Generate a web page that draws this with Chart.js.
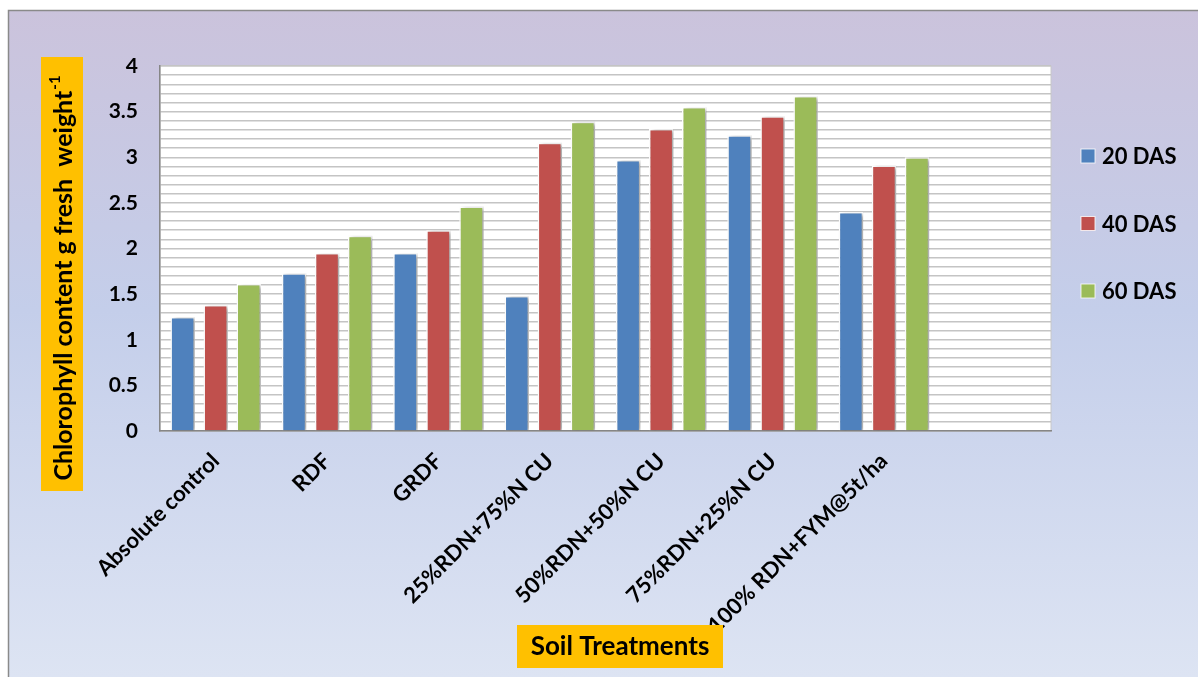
<!DOCTYPE html>
<html>
<head>
<meta charset="utf-8">
<title>Chlorophyll content</title>
<script src="https://cdn.jsdelivr.net/npm/chart.js@4"></script>
<style>
    body { margin: 0; background: #fff; }
    canvas { display: block; }
</style>
</head>
<body>
<canvas id="chlorophyll-chart" width="1198" height="677"></canvas>
<script>
// last slot is left empty, like the original sheet
const categories = ['Absolute control', 'RDF', 'GRDF', '25%RDN+75%N CU', '50%RDN+50%N CU', '75%RDN+25%N CU', '100% RDN+FYM@5t/ha', ''];
const das20 = [1.25, 1.73, 1.95, 1.48, 2.97, 3.24, 2.40];
const das40 = [1.38, 1.95, 2.20, 3.16, 3.31, 3.45, 2.91];
const das60 = [1.61, 2.14, 2.46, 3.39, 3.55, 3.67, 3.00];
const seriesNames = ['20 DAS', '40 DAS', '60 DAS'];
const seriesColors = ['#4F81BD', '#C0504D', '#9BBB59'];

const yTitle = 'Chlorophyll content g fresh  weight';
const xTitle = 'Soil Treatments';

const FONT = 'Lato, "Open Sans", sans-serif';

document.addEventListener('DOMContentLoaded', () => {
    const ctx = document.getElementById('chlorophyll-chart').getContext('2d');

    const framePlugin = {
        id: 'frame',
        beforeDraw(chart) {
            const c = chart.ctx;
            const { left, top, right, bottom } = chart.chartArea;
            c.save();
            c.fillStyle = '#fff';
            c.fillRect(0, 0, chart.width, chart.height);
            const grad = c.createLinearGradient(0, 10, 0, chart.height);
            grad.addColorStop(0, '#CBC3DC');
            grad.addColorStop(0.45, '#C4CEEA');
            grad.addColorStop(1, '#DDE4F3');
            c.fillStyle = grad;
            c.fillRect(8, 10, chart.width - 8, chart.height - 10);
            c.strokeStyle = '#8a8a8a';
            c.lineWidth = 1.5;
            c.strokeRect(8.5, 10.5, chart.width + 10, chart.height + 10);
            c.fillStyle = '#fff';
            c.fillRect(left, top, right - left, bottom - top);
            c.strokeStyle = '#c8c8c8';
            c.lineWidth = 1;
            c.strokeRect(left, top, right - left, bottom - top);
            c.restore();
        }
    };

    const shadowPlugin = {
        id: 'barShadow',
        beforeDatasetsDraw(chart) {
            const c = chart.ctx;
            c.save();
            c.shadowColor = 'rgba(0,0,0,0.35)';
            c.shadowBlur = 4;
            c.shadowOffsetX = 3;
            c.shadowOffsetY = 1;
        },
        afterDatasetsDraw(chart) {
            chart.ctx.restore();
        }
    };

    const labelsPlugin = {
        id: 'titlesAndLegend',
        afterDraw(chart) {
            const c = chart.ctx;
            c.save();

            // y axis title in orange box
            c.fillStyle = '#FFC000';
            c.fillRect(41, 57, 42, 434);
            c.translate(63, 278);
            c.rotate(-Math.PI / 2);
            c.font = 'bold 25px ' + FONT;
            const mainW = c.measureText(yTitle).width;
            c.font = 'bold 15px ' + FONT;
            const supW = c.measureText('-1').width;
            const start = -(mainW + supW + 1) / 2;
            c.fillStyle = '#000';
            c.textBaseline = 'middle';
            c.textAlign = 'left';
            c.font = 'bold 25px ' + FONT;
            c.fillText(yTitle, start, 1);
            c.font = 'bold 15px ' + FONT;
            c.fillText('-1', start + mainW + 1, -8);
            c.setTransform(1, 0, 0, 1, 0, 0);

            // x axis title in orange box
            c.fillStyle = '#FFC000';
            c.fillRect(517, 625, 206, 43);
            c.fillStyle = '#000';
            c.font = 'bold 26px ' + FONT;
            c.textAlign = 'center';
            c.textBaseline = 'middle';
            c.fillText(xTitle, 620, 647);

            // legend
            c.textAlign = 'left';
            c.font = 'bold 22px ' + FONT;
            chart.data.datasets.forEach((ds, i) => {
                const y = 156 + i * 67.5;
                c.fillStyle = ds.backgroundColor;
                c.fillRect(1081, y - 7, 14, 14);
                c.strokeStyle = 'rgba(255,255,255,0.8)';
                c.lineWidth = 1;
                c.strokeRect(1081, y - 7, 14, 14);
                c.fillStyle = '#000';
                c.fillText(ds.label, 1102, y + 1);
            });
            c.restore();
        }
    };

    new Chart(ctx, {
        type: 'bar',
        data: {
            labels: categories,
            datasets: [das20, das40, das60].map((values, i) => ({
                label: seriesNames[i],
                data: values,
                backgroundColor: seriesColors[i],
                borderColor: '#ffffff',
                borderWidth: 1.5,
                categoryPercentage: 0.89,
                barPercentage: 0.74
            }))
        },
        options: {
            responsive: false,
            animation: false,
            layout: {
                padding: { top: 66, right: 147, left: 0, bottom: 0 }
            },
            plugins: {
                legend: { display: false },
                tooltip: { enabled: false }
            },
            scales: {
                x: {
                    grid: { display: false },
                    border: { display: true, color: '#868686', width: 1.5 },
                    ticks: {
                        color: '#000',
                        font: { family: FONT, size: 22, weight: 'bold' },
                        minRotation: 45,
                        maxRotation: 45,
                        autoSkip: false,
                        padding: 9
                    },
                    afterFit(scale) {
                        scale.height = 246;
                    }
                },
                y: {
                    min: 0,
                    max: 4,
                    grid: {
                        color: '#c4c4c4',
                        lineWidth: 1.5,
                        drawTicks: false
                    },
                    border: { display: true, color: '#868686', width: 1.5 },
                    ticks: {
                        stepSize: 0.1,
                        autoSkip: false,
                        color: '#000',
                        padding: 22,
                        font: { family: FONT, size: 21, weight: 'bold' },
                        callback: value => {
                            const half = Math.round(value * 2);
                            if (Math.abs(value * 2 - half) > 1e-6) return '';
                            return String(half / 2);
                        }
                    },
                    afterFit(scale) {
                        scale.width = 160;
                    }
                }
            }
        },
        plugins: [framePlugin, shadowPlugin, labelsPlugin]
    });
});
</script>
</body>
</html>
